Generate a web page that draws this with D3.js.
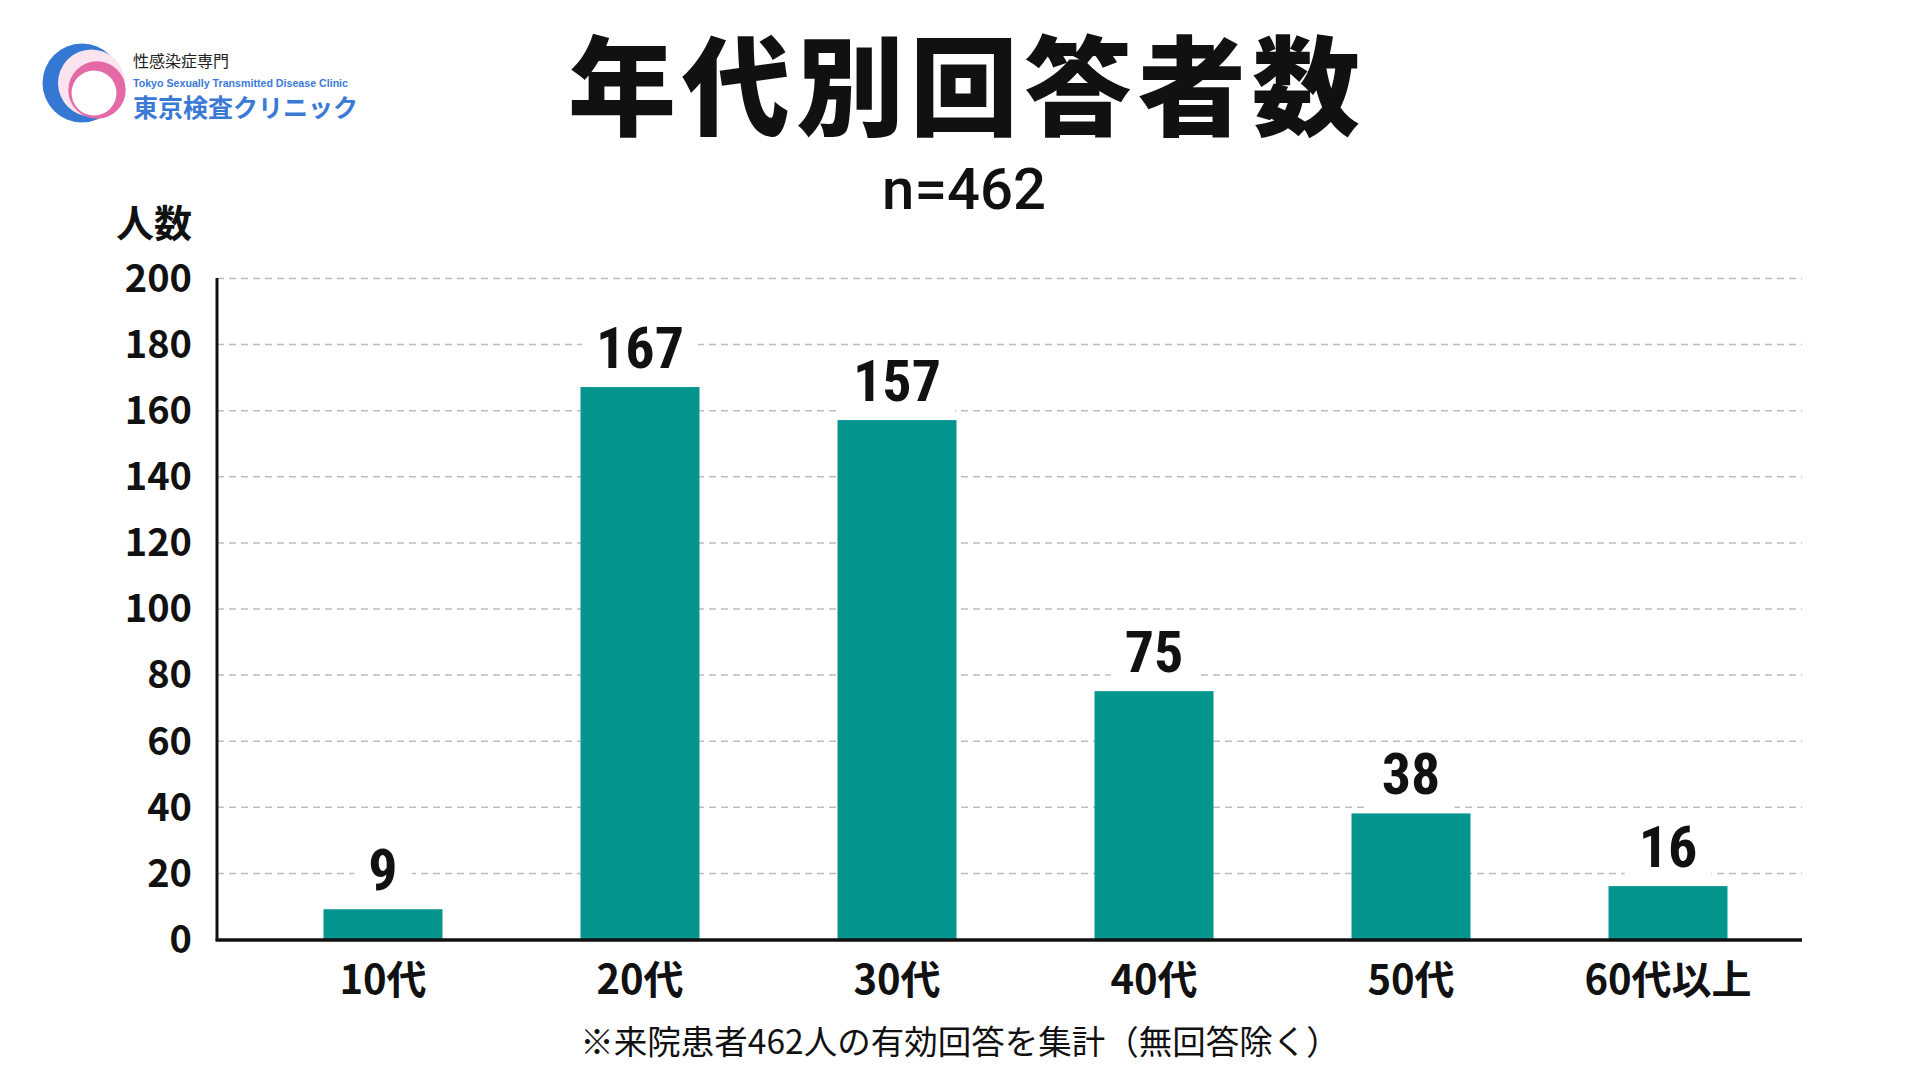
<!DOCTYPE html>
<html lang="ja">
<head>
    <meta charset="UTF-8">
    <title>年代別回答者数</title>
    <style>
        body {
            margin: 0;
            padding: 0;
            background-color: #ffffff;
        }
        svg {
            display: block;
        }
        .jp {
            font-family: "Noto Sans CJK JP", "Noto Sans", sans-serif;
        }
        .grid line {
            stroke: #bdbdbd;
            stroke-width: 1.5;
            stroke-dasharray: 7 5;
        }
        .bar {
            fill: #05958f;
        }
    </style>
    <script src="https://d3js.org/d3.v7.min.js"></script>
</head>
<body>
    <div id="chart"></div>

    <script>
        // chart data
        const categories = ["10代", "20代", "30代", "40代", "50代", "60代以上"];
        const counts = [9, 167, 157, 75, 38, 16];
        const yTicks = [0, 20, 40, 60, 80, 100, 120, 140, 160, 180, 200];

        const title = "年代別回答者数";
        const subtitle = "n=462";
        const yTitle = "人数";
        const footnote = "※来院患者462人の有効回答を集計（無回答除く）";

        const W = 1920, H = 1080;
        const axisLeft = 217, axisRight = 1802;
        const plotTop = 278, plotBottom = 939;

        const svg = d3.select("#chart")
            .append("svg")
            .attr("width", W)
            .attr("height", H);

        svg.append("rect")
            .attr("width", W)
            .attr("height", H)
            .attr("fill", "#ffffff");

        const x = d3.scaleBand()
            .domain(categories)
            .range([254.5, 1796.5])
            .paddingInner(0.537)
            .paddingOuter(0.2685);

        const y = d3.scaleLinear()
            .domain([0, 200])
            .range([plotBottom, plotTop]);

        // dashed grid lines
        svg.append("g")
            .attr("class", "grid")
            .attr("transform", `translate(${axisLeft},0)`)
            .call(d3.axisLeft(y)
                .tickValues(yTicks.filter(d => d > 0))
                .tickSize(-(axisRight - axisLeft))
                .tickFormat(""))
            .call(g => g.select(".domain").remove());

        // y tick labels
        const yAxis = svg.append("g")
            .attr("transform", `translate(${axisLeft},0)`)
            .call(d3.axisLeft(y).tickValues(yTicks).tickSize(0).tickPadding(25));
        yAxis.select(".domain").remove();
        yAxis.selectAll("text")
            .attr("class", "jp")
            .attr("font-size", 38)
            .attr("font-weight", 700)
            .attr("fill", "#111")
            .attr("dy", "0.35em");

        // bars
        svg.selectAll(".bar")
            .data(counts)
            .enter().append("rect")
            .attr("class", "bar")
            .attr("x", (d, i) => x(categories[i]))
            .attr("y", d => y(d))
            .attr("width", x.bandwidth())
            .attr("height", d => y(0) - y(d));

        // value labels with white backing so the grid breaks around them
        const labels = svg.selectAll(".val")
            .data(counts)
            .enter().append("g")
            .attr("class", "val");

        labels.append("rect")
            .attr("fill", "#ffffff");

        labels.append("text")
            .attr("x", (d, i) => x(categories[i]) + x.bandwidth() / 2)
            .attr("y", d => y(d) - 19)
            .attr("text-anchor", "middle")
            .attr("font-family", "'Liberation Sans Narrow', 'Roboto Condensed', Roboto, sans-serif")
            .attr("font-weight", 700)
            .attr("font-size", 58)
            .attr("fill", "#111")
            .text(d => d);

        labels.each(function () {
            const g = d3.select(this);
            const b = g.select("text").node().getBBox();
            g.select("rect")
                .attr("x", b.x - 14)
                .attr("y", b.y + 4)
                .attr("width", b.width + 28)
                .attr("height", b.height - 4);
        });

        // axis lines
        svg.append("line")
            .attr("x1", axisLeft).attr("x2", axisLeft)
            .attr("y1", plotTop).attr("y2", plotBottom + 1.5)
            .attr("stroke", "#111").attr("stroke-width", 3);
        svg.append("line")
            .attr("x1", axisLeft - 1.5).attr("x2", axisRight)
            .attr("y1", plotBottom + 1).attr("y2", plotBottom + 1)
            .attr("stroke", "#111").attr("stroke-width", 3.5);

        // category labels
        const xAxis = svg.append("g")
            .attr("transform", `translate(0,${plotBottom})`)
            .call(d3.axisBottom(x).tickSize(0).tickPadding(0));
        xAxis.select(".domain").remove();
        xAxis.selectAll("text")
            .attr("class", "jp")
            .attr("font-size", 40)
            .attr("font-weight", 700)
            .attr("fill", "#111")
            .attr("y", 41)
            .attr("dy", "0.35em");

        // titles
        svg.append("text")
            .attr("class", "jp")
            .attr("x", 964).attr("y", 127)
            .attr("text-anchor", "middle")
            .attr("font-size", 108)
            .attr("font-weight", 900)
            .attr("fill", "#111")
            .attr("textLength", 792)
            .attr("lengthAdjust", "spacing")
            .text(title);

        svg.append("text")
            .attr("x", 964).attr("y", 209)
            .attr("text-anchor", "middle")
            .attr("font-family", "Roboto, 'Noto Sans', sans-serif")
            .attr("font-size", 58)
            .attr("font-weight", 500)
            .attr("fill", "#111")
            .text(subtitle);

        svg.append("text")
            .attr("class", "jp")
            .attr("x", 154).attr("y", 220)
            .attr("text-anchor", "middle")
            .attr("dominant-baseline", "central")
            .attr("font-size", 38)
            .attr("font-weight", 700)
            .attr("fill", "#111")
            .text(yTitle);

        svg.append("text")
            .attr("class", "jp")
            .attr("x", 960).attr("y", 1039)
            .attr("text-anchor", "middle")
            .attr("dominant-baseline", "central")
            .attr("font-size", 33.5)
            .attr("font-weight", 400)
            .attr("fill", "#111")
            .text(footnote);

        // clinic logo
        const logo = svg.append("g");
        logo.append("circle").attr("cx", 82).attr("cy", 83).attr("r", 39.5).attr("fill", "#3478d4");
        logo.append("circle").attr("cx", 91.5).attr("cy", 83).attr("r", 33.5).attr("fill", "#fbe3ef");
        logo.append("circle").attr("cx", 97).attr("cy", 90).attr("r", 28.7).attr("fill", "#e36aa6");
        logo.append("circle").attr("cx", 94).attr("cy", 93).attr("r", 22.5).attr("fill", "#ffffff");

        logo.append("text")
            .attr("class", "jp")
            .attr("x", 133).attr("y", 60)
            .attr("dominant-baseline", "central")
            .attr("font-size", 16)
            .attr("fill", "#222")
            .text("性感染症専門");
        logo.append("text")
            .attr("x", 133).attr("y", 82.5)
            .attr("dominant-baseline", "central")
            .attr("font-family", "'Liberation Sans', Arial, sans-serif")
            .attr("font-size", 11.5)
            .attr("font-weight", 700)
            .attr("fill", "#3a7ad6")
            .attr("textLength", 215)
            .attr("lengthAdjust", "spacingAndGlyphs")
            .text("Tokyo Sexually Transmitted Disease Clinic");
        logo.append("text")
            .attr("class", "jp")
            .attr("x", 133).attr("y", 106)
            .attr("dominant-baseline", "central")
            .attr("font-size", 25)
            .attr("font-weight", 700)
            .attr("fill", "#3a7ad6")
            .text("東京検査クリニック");
    </script>
</body>
</html>
